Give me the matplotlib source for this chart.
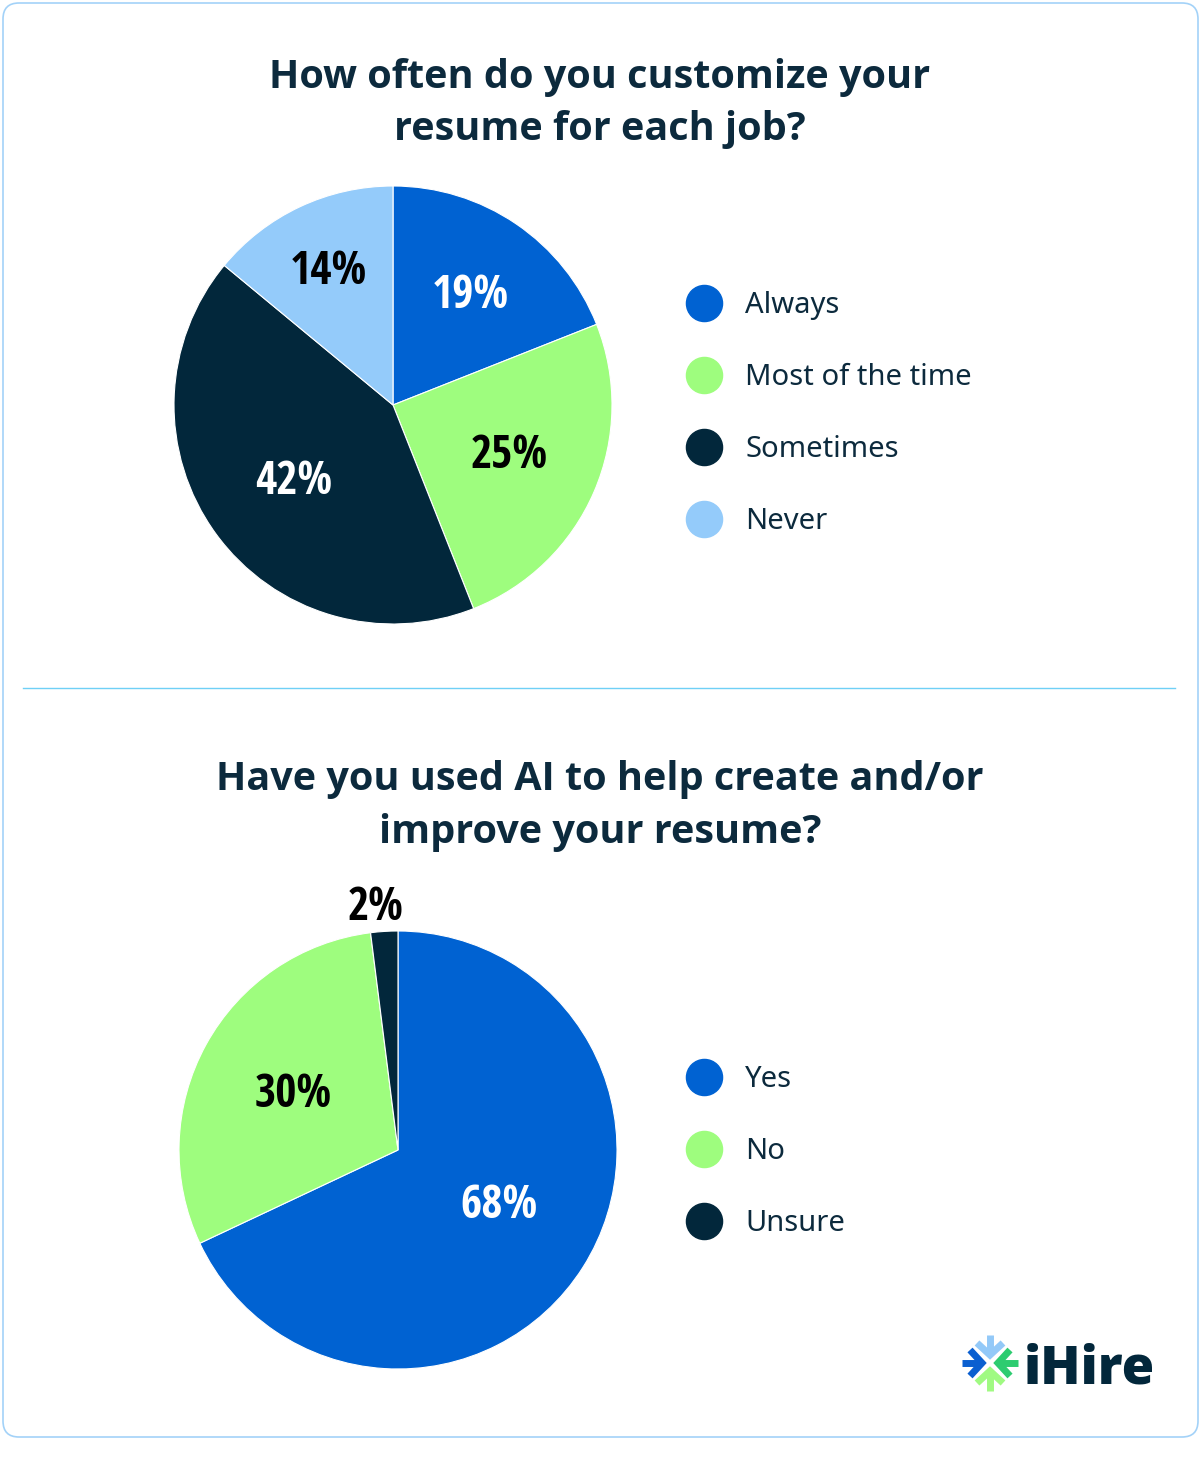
import matplotlib
matplotlib.use("Agg")
import matplotlib.pyplot as plt
from matplotlib.lines import Line2D
from matplotlib.patches import FancyBboxPatch
import numpy as np

# ---------------- data ----------------
q1_title = "How often do you customize your\nresume for each job?"
q1_labels = ["Always", "Most of the time", "Sometimes", "Never"]
q1_values = [19, 25, 42, 14]

q2_title = "Have you used AI to help create and/or\nimprove your resume?"
q2_labels = ["Yes", "No", "Unsure"]
q2_values = [68, 30, 2]

# ---------------- style ----------------
BLUE = "#0062D2"
GREEN = "#9EFD7E"
NAVY = "#02273B"
LIGHTBLUE = "#94CBFA"
TEXT = "#0C2A3D"

q1_colors = [BLUE, GREEN, NAVY, LIGHTBLUE]
q1_text_colors = ["white", "black", "white", "black"]
q1_label_dist = [0.63, 0.58, 0.56, 0.69]
q1_label_dy = [-0.02, -0.0, -0.02, -0.015]
q2_colors = [BLUE, GREEN, NAVY]
q2_text_colors = ["white", "black", "black"]
q2_label_dist = [0.52, 0.56, 1.12]
q2_label_dx = [0.02, 0.01, -0.03]
q2_label_dy = [0.025, -0.015, -0.01]

W, H = 1204, 1462
fig = plt.figure(figsize=(W / 100, H / 100), dpi=100)
fig.patch.set_facecolor("white")

# decoration overlay in pixel coordinates
deco = fig.add_axes([0, 0, 1, 1])
deco.set_xlim(0, W)
deco.set_ylim(H, 0)
deco.axis("off")
deco.add_patch(FancyBboxPatch((3, 3), 1195, 1434,
                              boxstyle="round,pad=0,rounding_size=16",
                              facecolor="white", edgecolor="#A3D2F8", linewidth=1.2))
deco.plot([23, 1175], [688, 688], color="#6FD0F6", linewidth=1.0)

LABEL_FONT = dict(family=["Open Sans Condensed", "DejaVu Sans"], weight="bold", size=33)
TITLE_FONT = dict(family=["Open Sans", "DejaVu Sans"], weight="bold", size=28.5)
LEGEND_FAMILY = ["Noto Sans", "DejaVu Sans"]
LEGEND_SIZE = 21


def draw_pie(box, values, colors, text_colors, dists, dxs=None, dys=None):
    ax = fig.add_axes(box)
    wedges, _ = ax.pie(values, colors=colors, startangle=90, counterclock=False,
                       radius=1.0, wedgeprops=dict(edgecolor="white", linewidth=0.8))
    ax.set_xlim(-1, 1)
    ax.set_ylim(-1, 1)
    ax.set_aspect("equal")
    ax.axis("off")
    for i, (w, v) in enumerate(zip(wedges, values)):
        ang = np.deg2rad((w.theta1 + w.theta2) / 2)
        d = dists[i]
        dx = dxs[i] if dxs else 0.0
        dy = dys[i] if dys else 0.0
        ax.text(d * np.cos(ang) + dx, d * np.sin(ang) + dy, f"{v}%",
                ha="center", va="center", color=text_colors[i], **LABEL_FONT)
    return ax, wedges


def draw_legend(labels, colors, x_px, yc_px):
    handles = [Line2D([], [], linestyle="none", marker="o", markersize=26,
                      markerfacecolor=c, markeredgecolor=c) for c in colors]
    leg = fig.legend(handles, labels, loc="center left",
                     bbox_to_anchor=(x_px / W, 1 - yc_px / H),
                     frameon=False, borderpad=0, borderaxespad=0, handlelength=1.0,
                     handletextpad=0.91, labelspacing=1.48,
                     prop=dict(family=LEGEND_FAMILY, size=LEGEND_SIZE))
    for t in leg.get_texts():
        t.set_color(TEXT)
    return leg


# ---- chart 1 ----
fig.text(600 / W, 1 - 88 / H, q1_title.split("\n")[0], ha="center", va="baseline",
         color=TEXT, **TITLE_FONT)
fig.text(600 / W, 1 - 140 / H, q1_title.split("\n")[1], ha="center", va="baseline",
         color=TEXT, **TITLE_FONT)
draw_pie([174 / W, (H - 624) / H, 438 / W, 438 / H], q1_values, q1_colors,
         q1_text_colors, q1_label_dist, None, q1_label_dy)
draw_legend(q1_labels, q1_colors, 689.4, 413.5)

# ---- chart 2 ----
fig.text(600 / W, 1 - 790 / H, q2_title.split("\n")[0], ha="center", va="baseline",
         color=TEXT, **TITLE_FONT)
fig.text(600 / W, 1 - 843 / H, q2_title.split("\n")[1], ha="center", va="baseline",
         color=TEXT, **TITLE_FONT)
draw_pie([179 / W, (H - 1369) / H, 438 / W, 438 / H], q2_values, q2_colors,
         q2_text_colors, q2_label_dist, q2_label_dx, q2_label_dy)
draw_legend(q2_labels, q2_colors, 689.4, 1151.5)

# ---- logo ----
cx, cy = 990, 1363
arm_colors = {"up": "#93C9F8", "left": "#0A5FD0", "right": "#2DCC70", "down": "#A0FA82"}
dirs = {"up": (0, -1), "down": (0, 1), "left": (-1, 0), "right": (1, 0)}
for name, (ux, uy) in dirs.items():
    px, py = -uy, ux  # perpendicular
    tip = (cx + 8 * ux, cy + 8 * uy)
    end = (cx + 28 * ux, cy + 28 * uy)
    b1 = (cx + 20 * ux + 13 * px, cy + 20 * uy + 13 * py)
    b2 = (cx + 20 * ux - 13 * px, cy + 20 * uy - 13 * py)
    col = arm_colors[name]
    deco.plot([tip[0], end[0]], [tip[1], end[1]], color=col, lw=5, solid_capstyle="butt")
    deco.plot([b1[0], tip[0], b2[0]], [b1[1], tip[1], b2[1]], color=col, lw=5,
              solid_capstyle="butt", solid_joinstyle="miter")
deco.text(1024, 1384, "iHire", ha="left", va="baseline", color=NAVY,
          family=["Open Sans", "DejaVu Sans"], weight="extra bold", size=38)

fig.savefig("out.png", dpi=100, facecolor="white")
